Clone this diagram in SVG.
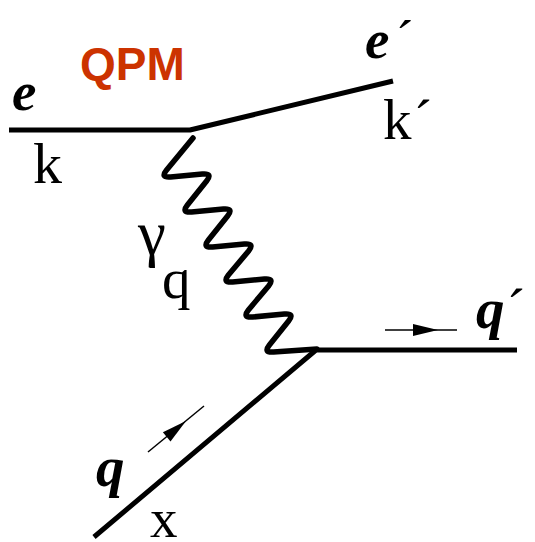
<svg xmlns="http://www.w3.org/2000/svg" width="535" height="542" viewBox="0 0 535 542">
<style>
.ln{fill:none;stroke:#000;stroke-width:5;stroke-linejoin:round}
.wv{fill:none;stroke:#000;stroke-width:5.5;stroke-linejoin:round;stroke-linecap:round}
.thin{fill:none;stroke:#000;stroke-width:1.5}
.bi{font-family:"Liberation Serif",serif;font-weight:bold;font-style:italic;fill:#000}
.rm{font-family:"Liberation Serif",serif;fill:#000}
.title{font-family:"Liberation Sans",Arial,sans-serif;font-weight:bold;fill:#CC3300}
</style>
<defs>
<path id="ah" d="M0,0 L-25,-6 L-25,6 Z" fill="#000"/>
</defs>
<rect width="535" height="542" fill="#fff"/>
<g id="connectors">
<polyline id="electron" class="ln" points="9,130 190,130 393,81"/>
<path id="photon" class="wv" d="M193,138 L166.6,170 Q160,178 170.6,177 L202.4,174 Q213,173 206.6,181 L187.4,205 Q181,213 191.6,212 L223.4,209 Q234,208 227.6,216 L208.4,240 Q202,248 212.6,247 L244.4,244 Q255,243 248.6,251 L228.4,275 Q222,283 232.6,282 L264.4,279 Q275,278 268.6,286 L248.4,310 Q242,318 252.6,317 L284.4,314 Q295,313 288.6,321 L269.4,345 Q263,353 273.6,352 L317,349"/>
<polyline id="quark" class="ln" points="94,537 316,350 517,350"/>
<g id="arrow-in">
<line class="thin" x1="148" y1="452" x2="204" y2="406"/>
<use href="#ah" transform="translate(186,421) rotate(-39.4)"/>
</g>
<g id="arrow-out">
<line class="thin" x1="385" y1="330" x2="457" y2="330"/>
<use href="#ah" transform="translate(438,330)"/>
</g>
</g>
<g id="title"><text class="title" x="80" y="80" font-size="46">QPM</text></g>
<g id="e-in"><text class="bi" x="12" y="110" font-size="55">e</text><text class="rm" x="33" y="183" font-size="58">k</text></g>
<g id="e-out"><text class="bi" x="365" y="58" font-size="55">e<tspan class="rm" font-style="normal" font-weight="normal" dx="6">´</tspan></text><text class="rm" x="383" y="139" font-size="57">k<tspan dx="2">´</tspan></text></g>
<g id="gamma"><text class="rm" x="138" y="254" font-size="63">γ</text><text class="rm" x="162" y="298" font-size="57">q</text></g>
<g id="q-in"><text class="bi" x="96" y="486" font-size="57">q</text><text class="rm" x="150" y="537" font-size="55">x</text></g>
<g id="q-out"><text class="bi" x="476" y="328" font-size="57">q<tspan class="rm" font-style="normal" font-weight="normal" dx="2">´</tspan></text></g>
</svg>
